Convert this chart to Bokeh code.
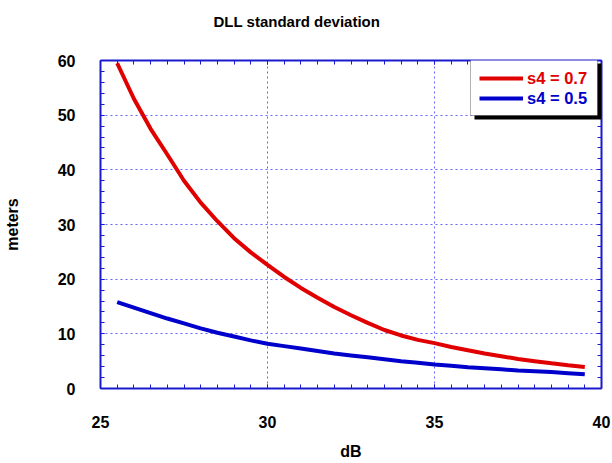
from bokeh.plotting import figure
from bokeh.models import (LinearAxis, SingleIntervalTicker, Legend, LegendItem,
                          BoxAnnotation, Range1d, Title, CustomJSTickFormatter)
from bokeh.embed import file_html
from bokeh.resources import INLINE

# ---- data ----
db = [25.5, 26.0, 26.5, 27.0, 27.5, 28.0, 28.5, 29.0, 29.5, 30.0,
      30.5, 31.0, 31.5, 32.0, 32.5, 33.0, 33.5, 34.0, 34.5, 35.0,
      35.5, 36.0, 36.5, 37.0, 37.5, 38.0, 38.5, 39.0, 39.5]
s4_07 = [59.5, 53.0, 47.5, 42.8, 38.0, 34.0, 30.6, 27.5, 24.9, 22.6,
         20.4, 18.4, 16.6, 14.9, 13.4, 12.0, 10.7, 9.7, 8.9, 8.3,
         7.6, 7.0, 6.4, 5.9, 5.4, 5.0, 4.6, 4.25, 3.95]
s4_05 = [15.8, 14.8, 13.8, 12.8, 11.9, 11.0, 10.2, 9.5, 8.8, 8.2,
         7.75, 7.3, 6.85, 6.4, 6.05, 5.7, 5.35, 5.0, 4.7, 4.4,
         4.15, 3.9, 3.7, 3.5, 3.3, 3.15, 3.0, 2.8, 2.6]
labels = ["s4 = 0.7", "s4 = 0.5"]
title_text = "DLL  standard deviation"
x_label = "dB"
y_label = "meters"

RED = "#e00000"
BLUE = "#0000cc"
AXBLUE = "#1a1ad0"
GRID = "#4040ff"
FONT = "Liberation Sans"

p = figure(width=612, height=463, output_backend="svg", toolbar_location=None,
           x_range=Range1d(25, 40), y_range=Range1d(0, 60),
           min_border_left=100, min_border_right=11,
           min_border_top=58, min_border_bottom=75,
           background_fill_color="white", border_fill_color="white")
p.title = None

xt = SingleIntervalTicker(interval=5, num_minor_ticks=10)
yt = SingleIntervalTicker(interval=10, num_minor_ticks=5)

p.xaxis.ticker = xt
p.yaxis.ticker = yt
p.xgrid.ticker = xt
p.ygrid.ticker = yt

for ax in (p.xaxis[0], p.yaxis[0]):
    ax.axis_line_color = AXBLUE
    ax.axis_line_width = 2
    ax.major_tick_line_color = AXBLUE
    ax.minor_tick_line_color = AXBLUE
    ax.major_tick_in = 4
    ax.major_tick_out = 0
    ax.minor_tick_in = 4
    ax.minor_tick_out = 0
    ax.major_label_text_font = FONT
    ax.major_label_text_font_size = "16px"
    ax.major_label_text_font_style = "bold"
    ax.major_label_text_color = "black"
    ax.axis_label_text_font = FONT
    ax.axis_label_text_font_size = "16px"
    ax.axis_label_text_font_style = "bold"
    ax.axis_label_text_color = "black"

p.xaxis.axis_label = x_label
p.yaxis.axis_label = y_label
p.xaxis.major_label_standoff = 27
p.xaxis.axis_label_standoff = 12
p.yaxis.major_label_standoff = 25
p.yaxis.axis_label_standoff = 34
p.yaxis.major_label_orientation = "horizontal"

blank = CustomJSTickFormatter(code="return ''")
for loc, tk in (("above", xt), ("right", yt)):
    a = LinearAxis(ticker=tk, formatter=blank, major_label_standoff=0,
                   axis_label_standoff=0,
                   major_label_text_font_size="1px",
                   axis_line_color=AXBLUE, axis_line_width=2,
                   major_tick_line_color=AXBLUE, minor_tick_line_color=AXBLUE,
                   major_tick_in=4, major_tick_out=0, minor_tick_in=4, minor_tick_out=0)
    p.add_layout(a, loc)

# invisible spacer between frame top and title
spacer = LinearAxis(ticker=xt, formatter=blank, major_label_standoff=0,
                    axis_label_standoff=0, major_label_text_font_size="1px",
                    axis_line_color=None, major_tick_line_color=None,
                    minor_tick_line_color=None, major_tick_in=0, major_tick_out=21,
                    minor_tick_in=0, minor_tick_out=21)
p.add_layout(spacer, "above")

p.add_layout(Title(text=title_text, align="left", offset=113, standoff=20,
                   text_font=FONT, text_font_size="15px", text_font_style="bold",
                   text_color="black"), "above")

p.outline_line_color = AXBLUE
p.outline_line_width = 1

for g in (p.xgrid[0], p.ygrid[0]):
    g.grid_line_color = GRID
    g.grid_line_dash = "2 3"
    g.grid_line_width = 1
    g.grid_line_alpha = 0.8

r_red = p.line(db, s4_07, line_color=RED, line_width=4)
r_blue = p.line(db, s4_05, line_color=BLUE, line_width=4)

# frame is 501 x 330 px; legend box with shadow (frame-relative screen units)
FW, FH = 501, 330
p.add_layout(BoxAnnotation(left=FW - 127, right=FW, top=FH - 5, bottom=FH - 61,
                           left_units="screen", right_units="screen",
                           top_units="screen", bottom_units="screen",
                           fill_color="black", fill_alpha=1.0, line_color=None))
p.add_layout(BoxAnnotation(left=FW - 131, right=FW - 4, top=FH - 1, bottom=FH - 57,
                           left_units="screen", right_units="screen",
                           top_units="screen", bottom_units="screen",
                           fill_color="white", fill_alpha=1.0,
                           line_color="black", line_width=1))

for rend, lab, col, dy in ((r_red, labels[0], RED, 30), (r_blue, labels[1], BLUE, 50)):
    lg = Legend(items=[LegendItem(label=lab, renderers=[rend])],
                location=(FW - 122, FH - dy),
                padding=0, margin=0, spacing=0, glyph_width=44, glyph_height=20,
                label_height=20, label_standoff=4, border_line_color=None,
                background_fill_alpha=0, label_text_font=FONT,
                label_text_font_size="16.5px", label_text_font_style="bold",
                label_text_color=col)
    p.add_layout(lg, "center")

open("out.html", "w").write(file_html(p, INLINE))
